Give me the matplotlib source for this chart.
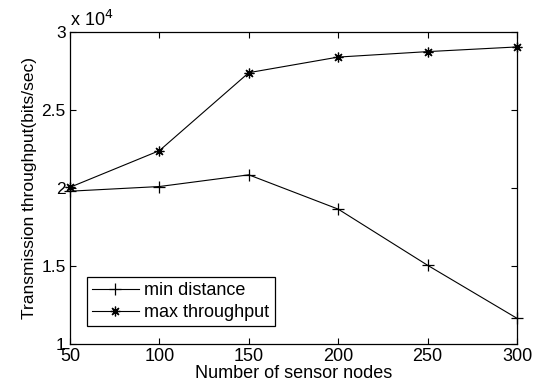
import matplotlib
matplotlib.use("Agg")
import matplotlib.pyplot as plt
from matplotlib.ticker import FuncFormatter

nodes = [50, 100, 150, 200, 250, 300]
min_distance = [19800, 20100, 20850, 18650, 15050, 11650]
max_throughput = [20050, 22400, 27400, 28400, 28750, 29050]
xticks = [50, 100, 150, 200, 250, 300]
yticks = [10000, 15000, 20000, 25000, 30000]

plt.rcParams['font.family'] = ['Liberation Sans', 'DejaVu Sans']
plt.rcParams['font.size'] = 12.5

fig = plt.figure(figsize=(5.33, 3.87), dpi=100)
ax = fig.add_axes([0.1313, 0.111, 0.8387, 0.806])

ax.plot(nodes, min_distance, color='black', lw=0.8, marker='+', ms=8, mew=0.9,
        label='min distance', clip_on=False)
ax.plot(nodes, max_throughput, color='black', lw=0.8, marker=(8, 2, 0), ms=7,
        mew=0.9, label='max throughput', clip_on=False)

ax.set_xlim(50, 300)
ax.set_ylim(10000, 30000)
ax.set_xticks(xticks)
ax.set_yticks(yticks)
ax.yaxis.set_major_formatter(FuncFormatter(lambda v, p: ('%g' % (v / 1e4))))
ax.tick_params(direction='in', top=True, right=True, length=4, width=0.8,
               pad=2)
ax.tick_params(axis='x', labelsize=13, pad=2.5)
ax.tick_params(axis='y', labelsize=12.5, pad=3)
for s in ax.spines.values():
    s.set_linewidth(0.9)

ax.text(0.0, 1.008, r'x 10$^{4}$', transform=ax.transAxes, fontsize=13,
        ha='left', va='bottom')

ax.set_xlabel('Number of sensor nodes', fontsize=13, labelpad=0)
ax.set_ylabel('Transmission throughput(bits/sec)', fontsize=12.5, labelpad=3)

leg = ax.legend(loc='lower left', bbox_to_anchor=(0.037, 0.057), fancybox=False,
                edgecolor='black', framealpha=1, fontsize=13, handlelength=2.6,
                borderpad=0.3, labelspacing=0.25, handletextpad=0.3,
                borderaxespad=0)
leg.get_frame().set_linewidth(0.9)

fig.savefig('out.png', dpi=100)
